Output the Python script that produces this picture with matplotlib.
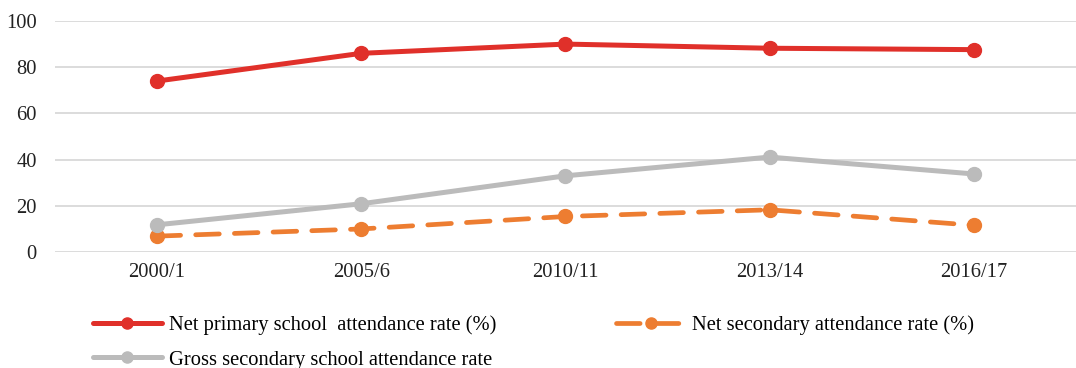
import numpy as np
import matplotlib.pyplot as plt

plt.rcParams['font.family'] = ['Liberation Serif', 'DejaVu Serif']

years = ['2000/1', '2005/6', '2010/11', '2013/14', '2016/17']
net_primary = [74.0, 86.0, 90.0, 88.2, 87.6]
net_secondary = [6.9, 10.0, 15.4, 18.3, 11.6]
gross_secondary = [11.8, 20.9, 33.0, 41.1, 33.8]

fig = plt.figure(figsize=(10.76, 3.68), dpi=100)
ax = fig.add_axes([0.051, 0.315, 0.949, 0.628])

x = np.arange(len(years))
l1, = ax.plot(x, net_primary, color='#E0302A', lw=3.6, marker='o', ms=10,
              solid_capstyle='round', label='Net primary school  attendance rate (%)', zorder=4)
l2, = ax.plot(x, net_secondary, color='#ED7D31', lw=3.4, marker='o', ms=10,
              linestyle=(0, (5, 3.2)), dash_capstyle='round',
              label='Net secondary attendance rate (%)', zorder=3)
l3, = ax.plot(x, gross_secondary, color='#BBBBBB', lw=3.6, marker='o', ms=10,
              solid_capstyle='round', label='Gross secondary school attendance rate', zorder=3)

ax.set_xlim(-0.5, 4.5)
ax.set_ylim(0, 100)
ax.set_yticks(range(0, 101, 20))
ax.set_xticks(x)
ax.set_xticklabels(years)
ax.yaxis.grid(True, color='#D9D9D9', lw=1.3)
ax.set_axisbelow(True)
for s in ax.spines.values():
    s.set_visible(False)
ax.tick_params(axis='both', length=0, labelsize=14.8, colors='#222222')
ax.tick_params(axis='y', pad=13)
ax.tick_params(axis='x', pad=8)

# column-wise fill: red/gray in first column, orange in second
fig.legend(handles=[l1, l3, l2], loc='upper left', bbox_to_anchor=(0.086, 0.144),
           ncol=2, frameon=False, fontsize=14.8, handlelength=3.4,
           columnspacing=5.85, handletextpad=0.3, labelspacing=0.75,
           markerscale=0.8, borderaxespad=0, borderpad=0)

fig.savefig('out.png', dpi=100)
